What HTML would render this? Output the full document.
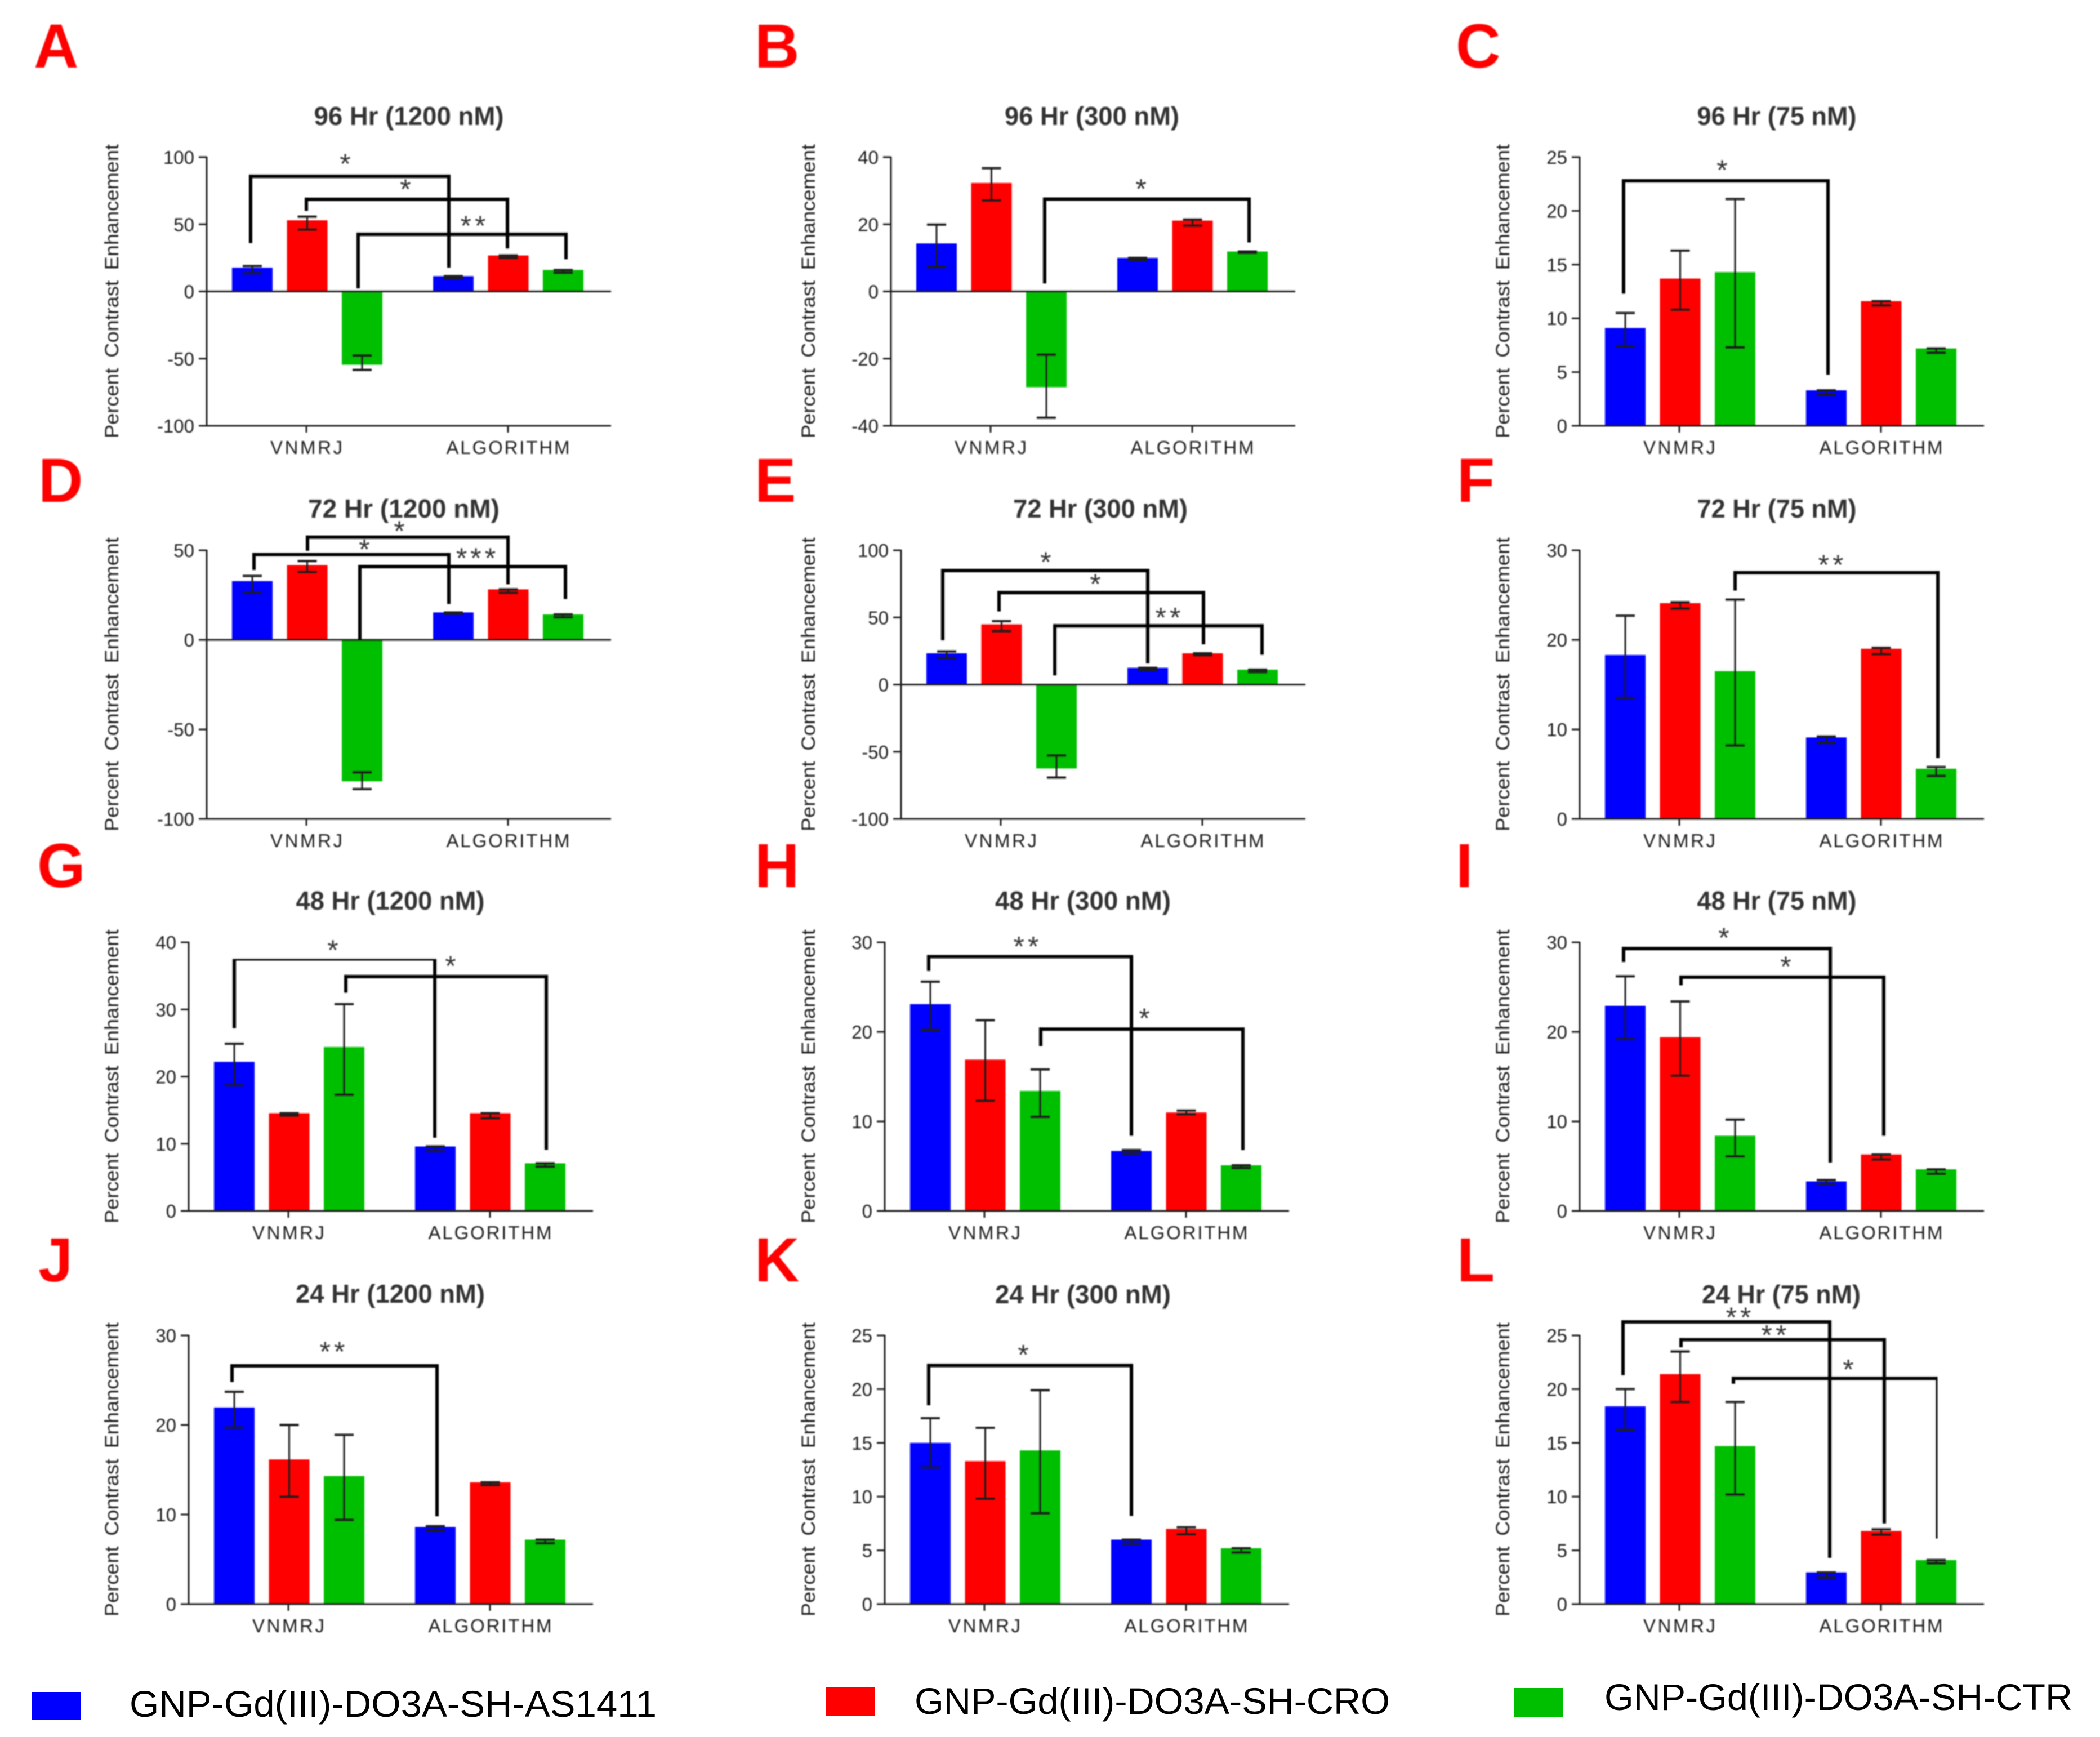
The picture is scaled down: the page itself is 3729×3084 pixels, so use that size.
<!DOCTYPE html>
<html lang="en">
<head>
<meta charset="utf-8">
<title>Percent Contrast Enhancement panels</title>
<style>
html,body{margin:0;padding:0;background:#fff;}
svg{display:block;}
text{font-family:"Liberation Sans",Arial,sans-serif;}
#panels{filter:blur(1.1px);}
</style>
</head>
<body>
<svg id="figure" xmlns="http://www.w3.org/2000/svg" width="3729" height="3084" viewBox="0 0 3729 3084">
  <rect x="0" y="0" width="3729" height="3084" fill="#ffffff"/>
  <g id="panels"></g>
  <g>
    <g>
      <rect x="56" y="3004" width="88" height="49" fill="#0000ff"/>
      <text x="230" y="3048" font-size="66" fill="#000" textLength="936" lengthAdjust="spacingAndGlyphs">GNP-Gd(III)-DO3A-SH-AS1411</text>
    </g>
    <g>
      <rect x="1467" y="2996" width="87" height="50" fill="#ff0000"/>
      <text x="1624" y="3043" font-size="66" fill="#000" textLength="844" lengthAdjust="spacingAndGlyphs">GNP-Gd(III)-DO3A-SH-CRO</text>
    </g>
    <g>
      <rect x="2688" y="2997" width="88" height="51" fill="#00bf00"/>
      <text x="2849" y="3036" font-size="66" fill="#000" textLength="831" lengthAdjust="spacingAndGlyphs">GNP-Gd(III)-DO3A-SH-CTR</text>
    </g>
  </g>
</svg>
<script>
const groupLabels = ['VNMRJ', 'ALGORITHM'];
const barNames = ['vnmrj-as1411', 'vnmrj-cro', 'vnmrj-ctr', 'algorithm-as1411', 'algorithm-cro', 'algorithm-ctr'];
const yAxisLabel = 'Percent Contrast Enhancement';

const valuesA = [17.7, 53, -54.5, 11.4, 26.8, 16];
const highA = [18.9, 55.7, -47.7, 11.4, 26.8, 16];
const lowA = [13.6, 46, -58.4, 9.5, 25, 14];
const ticksA = [100, 50, 0, -50, -100];

const valuesB = [14.3, 32.3, -28.5, 10, 21.1, 11.9];
const highB = [19.9, 36.7, -18.8, 10, 21.4, 11.9];
const lowB = [7.3, 27.1, -37.6, 9.3, 19.6, 11.5];
const ticksB = [40, 20, 0, -20, -40];

const valuesC = [9.1, 13.7, 14.3, 3.3, 11.6, 7.2];
const highC = [10.5, 16.3, 21.1, 3.3, 11.6, 7.2];
const lowC = [7.4, 10.8, 7.3, 2.9, 11.2, 6.8];
const ticksC = [25, 20, 15, 10, 5, 0];

const valuesD = [32.8, 41.7, -79, 15.3, 28.2, 14.2];
const highD = [35.7, 44, -74, 15.3, 28.2, 14.2];
const lowD = [26.3, 37.9, -83.3, 14.5, 26.3, 12.6];
const ticksD = [50, 0, -50, -100];

const valuesE = [23.3, 44.8, -62.4, 12.5, 23.3, 11.1];
const highE = [24.7, 47.3, -52.7, 12.5, 23.3, 11.1];
const lowE = [19.7, 39.8, -69.2, 10.8, 21.9, 9.3];
const ticksE = [100, 50, 0, -50, -100];

const valuesF = [18.3, 24.1, 16.5, 9.1, 19, 5.6];
const highF = [22.7, 24.2, 24.5, 9.2, 19.1, 5.8];
const lowF = [13.5, 23.5, 8.2, 8.5, 18.4, 4.8];
const ticksF = [30, 20, 10, 0];

const valuesG = [22.2, 14.55, 24.4, 9.6, 14.55, 7.1];
const highG = [24.9, 14.55, 30.8, 9.6, 14.55, 7.1];
const lowG = [18.7, 14.2, 17.3, 8.9, 13.8, 6.6];
const ticksG = [40, 30, 20, 10, 0];

const valuesH = [23.1, 16.9, 13.4, 6.7, 11, 5.1];
const highH = [25.6, 21.3, 15.8, 6.8, 11.2, 5.1];
const lowH = [20.2, 12.3, 10.5, 6.4, 10.8, 4.8];
const ticksH = [30, 20, 10, 0];

const valuesI = [22.9, 19.4, 8.4, 3.3, 6.3, 4.65];
const highI = [26.2, 23.4, 10.2, 3.45, 6.3, 4.65];
const lowI = [19.2, 15.1, 6.1, 3, 5.75, 4.15];
const ticksI = [30, 20, 10, 0];

const valuesJ = [21.95, 16.15, 14.3, 8.6, 13.6, 7.2];
const highJ = [23.7, 20, 18.9, 8.7, 13.6, 7.2];
const lowJ = [19.7, 12, 9.4, 8.2, 13.3, 6.8];
const ticksJ = [30, 20, 10, 0];

const valuesK = [15, 13.3, 14.3, 6, 7, 5.2];
const highK = [17.3, 16.4, 19.9, 6, 7.15, 5.2];
const lowK = [12.7, 9.8, 8.45, 5.6, 6.5, 4.8];
const ticksK = [25, 20, 15, 10, 5, 0];

const valuesL = [18.4, 21.4, 14.7, 2.95, 6.8, 4.1];
const highL = [20, 23.5, 18.8, 2.95, 6.95, 4.1];
const lowL = [16.2, 18.8, 10.2, 2.45, 6.45, 3.8];
const ticksL = [25, 20, 15, 10, 5, 0];

/* significance annotations: left, right (px from axis), bracket level, left end, right end (data units),
   label, label x (px from axis), label rise (px), thin segment */
const bracketsA = [[78, 430, 85.7, 36, 17.7, '*', 245, 27, ''], [177, 534, 68.6, 60, 32, '*', 352, 23, ''], [269, 638, 42.5, 2.3, 24, '**', 472, 20, '']];
const bracketsB = [[273, 636, 27.5, 2.4, 14.6, '*', 443, 23, '']];
const bracketsC = [[78, 441, 22.8, 12.3, 4.75, '*', 252, 24, '']];
const bracketsD = [[84, 430, 47.6, 39, 20, '*', 279, 14, ''], [179, 535, 57.3, 49.7, 31, '*', 341, 16, ''], [272, 637, 40.9, 0, 22.8, '***', 477, 20, '']];
const bracketsE = [[74, 438, 84.9, 33, 15.8, '*', 256, 20, ''], [174, 537, 68.5, 54.5, 30, '*', 344, 20, ''], [273, 641, 43.7, 6.8, 22.2, '**', 473, 20, '']];
const bracketsF = [[276, 636, 27.5, 25.5, 6.8, '**', 445, 19, '']];
const bracketsG = [[81, 437, 37.4, 27.2, 10.9, '*', 255, 22, 'top'], [279, 635, 34.9, 32.5, 9.1, '*', 464, 24, '']];
const bracketsH = [[78, 438, 28.4, 26.8, 8.4, '**', 250, 23, ''], [277, 636, 20.3, 18.4, 6.8, '*', 460, 24, '']];
const bracketsI = [[78, 445, 29.3, 27.8, 5.4, '*', 255, 24, ''], [180, 540, 26.1, 25.2, 8.4, '*', 365, 24, '']];
const bracketsJ = [[77, 441, 26.6, 24.8, 9.8, '**', 254, 30, '']];
const bracketsK = [[78, 438, 22.2, 18.5, 8.2, '*', 245, 24, '']];
const bracketsL = [[77, 444, 26.26, 21.3, 4.3, '**', 281, 13, ''], [180, 541, 24.6, 23.9, 7.5, '**', 344, 13, ''], [273, 634, 21, 20.5, 6.1, '*', 476, 21, 'right']];

const panels = [
  {id: 'a', letter: 'A', letterX: 60, letterY: 120, title: '96 Hr (1200 nM)', titleX: 726, titleW: 337, titleY: 206, x0: 367, top: 279, bottom: 756, labelX: 210, values: valuesA, high: highA, low: lowA, ticks: ticksA, brackets: bracketsA},
  {id: 'b', letter: 'B', letterX: 1340, letterY: 120, title: '96 Hr (300 nM)', titleX: 1939, titleW: 310, titleY: 206, x0: 1582, top: 279, bottom: 756, labelX: 1447, values: valuesB, high: highB, low: lowB, ticks: ticksB, brackets: bracketsB},
  {id: 'c', letter: 'C', letterX: 2585, letterY: 120, title: '96 Hr (75 nM)', titleX: 3155, titleW: 283, titleY: 206, x0: 2805, top: 279, bottom: 756, labelX: 2680, values: valuesC, high: highC, low: lowC, ticks: ticksC, brackets: bracketsC},
  {id: 'd', letter: 'D', letterX: 68, letterY: 891, title: '72 Hr (1200 nM)', titleX: 717, titleW: 340, titleY: 903, x0: 367, top: 977, bottom: 1454, labelX: 210, values: valuesD, high: highD, low: lowD, ticks: ticksD, brackets: bracketsD},
  {id: 'e', letter: 'E', letterX: 1340, letterY: 891, title: '72 Hr (300 nM)', titleX: 1954, titleW: 310, titleY: 903, x0: 1600, top: 977, bottom: 1454, labelX: 1447, values: valuesE, high: highE, low: lowE, ticks: ticksE, brackets: bracketsE},
  {id: 'f', letter: 'F', letterX: 2587, letterY: 891, title: '72 Hr (75 nM)', titleX: 3155, titleW: 283, titleY: 903, x0: 2805, top: 977, bottom: 1454, labelX: 2680, values: valuesF, high: highF, low: lowF, ticks: ticksF, brackets: bracketsF},
  {id: 'g', letter: 'G', letterX: 66, letterY: 1575, title: '48 Hr (1200 nM)', titleX: 693, titleW: 335, titleY: 1599, x0: 335, top: 1673, bottom: 2150, labelX: 210, values: valuesG, high: highG, low: lowG, ticks: ticksG, brackets: bracketsG},
  {id: 'h', letter: 'H', letterX: 1340, letterY: 1575, title: '48 Hr (300 nM)', titleX: 1923, titleW: 312, titleY: 1599, x0: 1571, top: 1673, bottom: 2150, labelX: 1447, values: valuesH, high: highH, low: lowH, ticks: ticksH, brackets: bracketsH},
  {id: 'i', letter: 'I', letterX: 2585, letterY: 1575, title: '48 Hr (75 nM)', titleX: 3155, titleW: 283, titleY: 1599, x0: 2805, top: 1673, bottom: 2150, labelX: 2680, values: valuesI, high: highI, low: lowI, ticks: ticksI, brackets: bracketsI},
  {id: 'j', letter: 'J', letterX: 68, letterY: 2275, title: '24 Hr (1200 nM)', titleX: 693, titleW: 336, titleY: 2297, x0: 335, top: 2371, bottom: 2848, labelX: 210, values: valuesJ, high: highJ, low: lowJ, ticks: ticksJ, brackets: bracketsJ},
  {id: 'k', letter: 'K', letterX: 1340, letterY: 2275, title: '24 Hr (300 nM)', titleX: 1923, titleW: 312, titleY: 2298, x0: 1571, top: 2371, bottom: 2848, labelX: 1447, values: valuesK, high: highK, low: lowK, ticks: ticksK, brackets: bracketsK},
  {id: 'l', letter: 'L', letterX: 2587, letterY: 2275, title: '24 Hr (75 nM)', titleX: 3163, titleW: 282, titleY: 2298, x0: 2805, top: 2371, bottom: 2848, labelX: 2680, values: valuesL, high: highL, low: lowL, ticks: ticksL, brackets: bracketsL}
];

const SVG_NS = 'http://www.w3.org/2000/svg';
const barColors = ['#0000ff', '#ff0000', '#00bf00'];
const inkColor = '#1c1c1c';
const panelsRoot = document.getElementById('panels');

function shape(parent, tag, attrs, content) {
  const node = document.createElementNS(SVG_NS, tag);
  Object.keys(attrs).forEach(function (k) { node.setAttribute(k, attrs[k]); });
  if (content !== undefined) node.textContent = content;
  parent.appendChild(node);
  return node;
}
function barLeft(p, i) {
  return p.x0 + 45 + (i % 3) * 97.5 + (i >= 3 ? 357 : 0);
}
function makeYScale(p) {
  const lo = Math.min.apply(null, p.ticks);
  const hi = Math.max.apply(null, p.ticks);
  return function (v) { return p.bottom - (v - lo) / (hi - lo) * (p.bottom - p.top); };
}

panels.forEach(function (p) {
  const y = makeYScale(p);
  const zero = y(0);
  const barW = 72;
  const axisEnd = p.x0 + 718;

  const g = shape(panelsRoot, 'g', {});
  
  

  const letter = shape(g, 'text', {x: p.letterX, y: p.letterY, 'font-size': 110, 'font-weight': 700, fill: '#ff0000'}, p.letter);
  
  

  const title = shape(g, 'text', {x: p.titleX, y: p.titleY + 16, 'font-size': 46, 'font-weight': 700, fill: '#333', 'text-anchor': 'middle', textLength: p.titleW, lengthAdjust: 'spacingAndGlyphs'}, p.title);
  
  

  const yTitle = shape(g, 'text', {x: 0, y: 0, 'font-size': 34, fill: inkColor, 'word-spacing': 8, 'text-anchor': 'middle', textLength: 522, lengthAdjust: 'spacingAndGlyphs', transform: 'translate(' + p.labelX + ',' + (p.bottom - 239) + ') rotate(-90)'}, yAxisLabel);
  
  

  p.values.forEach(function (v, i) {
    const barTop = Math.min(y(v), zero);
    const bar = shape(g, 'rect', {x: barLeft(p, i), y: barTop, width: barW, height: Math.abs(y(v) - zero), fill: barColors[i % 3]});
    
    
  });

  p.values.forEach(function (v, i) {
    const cx = barLeft(p, i) + barW / 2;
    const stem = shape(g, 'line', {x1: cx, x2: cx, y1: y(p.high[i]), y2: y(p.low[i]), stroke: inkColor, 'stroke-width': 3});
    
    
    const capHigh = shape(g, 'line', {x1: cx - 17, x2: cx + 17, y1: y(p.high[i]), y2: y(p.high[i]), stroke: inkColor, 'stroke-width': 4});
    
    
    const capLow = shape(g, 'line', {x1: cx - 17, x2: cx + 17, y1: y(p.low[i]), y2: y(p.low[i]), stroke: inkColor, 'stroke-width': 4});
    
    
  });

  const yAxis = shape(g, 'line', {x1: p.x0, x2: p.x0, y1: p.top - 1, y2: p.bottom + 1, stroke: inkColor, 'stroke-width': 3});
  
  

  p.ticks.forEach(function (t) {
    const mark = shape(g, 'line', {x1: p.x0 - 14, x2: p.x0, y1: y(t), y2: y(t), stroke: inkColor, 'stroke-width': 3});
    
    
    const tickText = shape(g, 'text', {x: p.x0 - 22, y: y(t) + 12, 'font-size': 33, fill: inkColor, 'text-anchor': 'end'}, String(t));
    
    
  });

  const xAxis = shape(g, 'line', {x1: p.x0, x2: axisEnd, y1: p.bottom, y2: p.bottom, stroke: inkColor, 'stroke-width': 3});
  
  

  if (Math.min.apply(null, p.ticks) < 0) {
    const zeroLine = shape(g, 'line', {x1: p.x0, x2: axisEnd, y1: zero, y2: zero, stroke: inkColor, 'stroke-width': 3});
    
    
  }

  groupLabels.forEach(function (name, i) {
    const cx = p.x0 + (i === 0 ? 177 : 535);
    const mark = shape(g, 'line', {x1: cx, x2: cx, y1: p.bottom, y2: p.bottom + 12, stroke: inkColor, 'stroke-width': 3});
    
    
    const label = shape(g, 'text', {x: cx, y: p.bottom + 50, 'font-size': 33, fill: inkColor, 'text-anchor': 'middle', textLength: i === 0 ? 128 : 219, lengthAdjust: 'spacing'}, name);
    
    
  });

  p.brackets.forEach(function (b, i) {
    const left = p.x0 + b[0];
    const right = p.x0 + b[1];
    const level = y(b[2]);
    const thick = 6;
    const thin = 3;
    const topW = b[8] === 'top' ? thin : thick;
    const rightW = b[8] === 'right' ? thin : thick;
    const legLeft = shape(g, 'line', {x1: left, x2: left, y1: level - topW / 2, y2: y(b[3]), stroke: '#000', 'stroke-width': thick});
    
    
    const span = shape(g, 'line', {x1: left - thick / 2, x2: right + rightW / 2, y1: level, y2: level, stroke: '#000', 'stroke-width': topW});
    
    
    const legRight = shape(g, 'line', {x1: right, x2: right, y1: level - topW / 2, y2: y(b[4]), stroke: '#000', 'stroke-width': rightW});
    
    
    const star = shape(g, 'text', {x: p.x0 + b[6] + 4, y: level - b[7] + 22, 'font-size': 50, 'letter-spacing': 6, fill: '#333', 'text-anchor': 'middle'}, b[5]);
    
    
  });
});
</script>
</body>
</html>
